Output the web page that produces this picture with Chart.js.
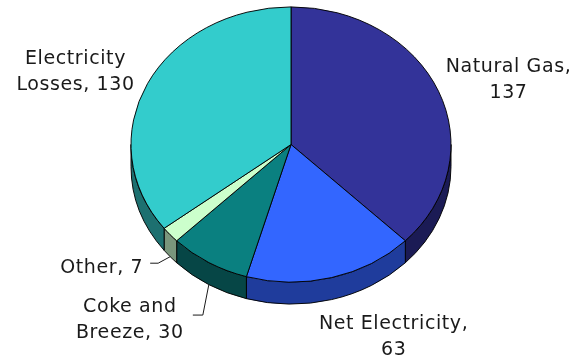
<!DOCTYPE html>
<html>
<head>
<meta charset="utf-8">
<script src="https://cdn.jsdelivr.net/npm/chart.js@4"></script>
<style>
html, body { margin: 0; padding: 0; background: #fff; }
#wrap { width: 581px; height: 358px; }
</style>
</head>
<body>
<div id="wrap"><canvas id="myChart" width="581" height="358"></canvas></div>
<script>
'use strict'

// values, clockwise from 12 o'clock
var categories = ['Natural Gas', 'Net Electricity', 'Coke and Breeze', 'Other', 'Electricity Losses'];
var values = [137, 63, 30, 7, 130];

var topColors = ['#333399', '#3366ff', '#0a8080', '#ccffcc', '#33cccc'];
var sideColors = ['#1b1b55', '#1f3c9c', '#064646', '#7a967c', '#1d7070'];

// fake 3d: squash the pie vertically and add a rim below it
var tilt = 0.86;
var depth = 22;

// where each label sits, relative to the middle of its slice edge
var labelLayout = [
    { wrap: 2, dx: 70, dy: -19, align: 'center' },
    { wrap: 2, dx: 62, dy: 29.5, align: 'center' },
    { wrap: 2, dx: -79, dy: 27.5, align: 'center', leader: [[-6, 30.5], [-16, 30.5]] },
    { wrap: 9, dx: -27, dy: 16.5, align: 'right', leader: [[-12, 6.5], [-20, 6.5]] },
    { wrap: 1, dx: -72, dy: -19.6, align: 'center' }
];
var lineHeight = 26;

var ctx = document.getElementById('myChart').getContext('2d');

var pie3d = {
    id: 'pie3d',
    beforeDatasetsDraw: function(chart) {
        var c = chart.ctx;
        var meta = chart.getDatasetMeta(0);
        var first = meta.data[0];
        c.save();
        c.translate(first.x, first.y);
        c.scale(1, tilt);
        c.translate(-first.x, -first.y);
        var d = depth / tilt;
        meta.data.forEach(function(arc, i) {
            var a0 = Math.max(arc.startAngle, 0);
            var a1 = Math.min(arc.endAngle, Math.PI);
            if (a1 <= a0) return;
            c.beginPath();
            c.arc(arc.x, arc.y, arc.outerRadius, a0, a1);
            c.arc(arc.x, arc.y + d, arc.outerRadius, a1, a0, true);
            c.closePath();
            c.fillStyle = sideColors[i];
            c.fill();
            c.lineWidth = 1;
            c.strokeStyle = '#000';
            c.stroke();
        });
    },
    afterDatasetsDraw: function(chart) {
        chart.ctx.restore();
    },
    afterDraw: function(chart) {
        var c = chart.ctx;
        var meta = chart.getDatasetMeta(0);
        c.save();
        c.font = '19px "DejaVu Sans"';
        c.letterSpacing = '0.6px';
        c.fillStyle = '#1a1a1a';
        c.strokeStyle = '#1a1a1a';
        c.lineWidth = 1;
        c.textBaseline = 'alphabetic';
        meta.data.forEach(function(arc, i) {
            var lay = labelLayout[i];
            var mid = (arc.startAngle + arc.endAngle) / 2;
            var ax = arc.x + arc.outerRadius * Math.cos(mid);
            var ay = arc.y + arc.outerRadius * tilt * Math.sin(mid) + (Math.sin(mid) > 0 ? depth : 0);

            var words = (categories[i] + ', ' + values[i]).split(' ');
            var lines = [words.slice(0, lay.wrap).join(' ')];
            if (words.length > lay.wrap) lines.push(words.slice(lay.wrap).join(' '));

            c.textAlign = lay.align;
            lines.forEach(function(t, k) {
                c.fillText(t, ax + lay.dx, ay + lay.dy + k * lineHeight);
            });

            if (lay.leader) {
                c.beginPath();
                c.moveTo(ax, ay);
                lay.leader.forEach(function(p) {
                    c.lineTo(ax + p[0], ay + p[1]);
                });
                c.stroke();
            }
        });
        c.restore();
    }
};

var chart = new Chart(ctx, {
    type: 'pie',
    data: {
        labels: categories,
        datasets: [{
            data: values,
            backgroundColor: topColors,
            borderColor: '#000',
            borderWidth: 1,
            radius: 160,
            clip: false
        }]
    },
    options: {
        responsive: false,
        animation: false,
        events: [],
        layout: {
            padding: { left: 131, right: 130, top: 0, bottom: 69 }
        },
        plugins: {
            legend: { display: false },
            tooltip: { enabled: false }
        }
    },
    plugins: [pie3d]
});
</script>
</body>
</html>
